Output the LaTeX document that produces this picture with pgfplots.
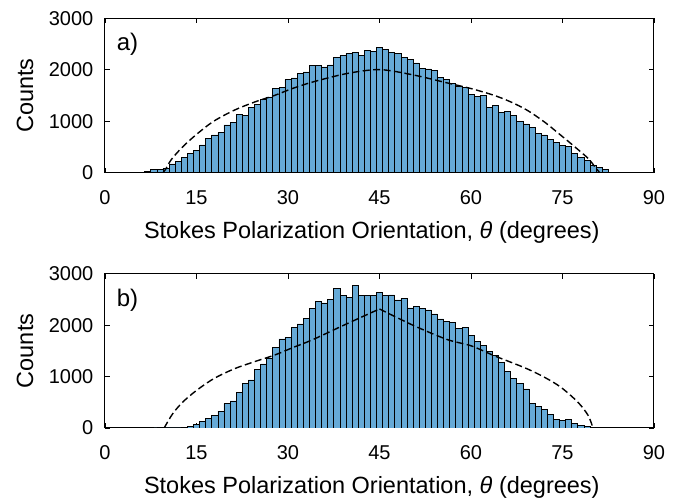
\documentclass[border=0pt]{standalone}
\usepackage{fontspec}
\setmainfont{Liberation Sans}
\usepackage{pgfplots}
\pgfplotsset{compat=1.18}
\definecolor{histblue}{RGB}{102,170,215}

\pgfplotsset{
    panel/.style={
        scale only axis, width=549pt, height=154.2pt,
        xmin=0, xmax=90, ymin=0, ymax=3000,
        xtick={0,15,...,90}, ytick={0,1000,2000,3000},
        scaled y ticks=false,
        /pgf/number format/1000 sep={},
        /pgf/number format/assume math mode=true,
        tick align=inside, major tick length=5pt,
        tick style={black, line width=0.8pt},
        axis line style={line width=1pt},
        ticklabel style={font=\fontsize{20}{24}\selectfont},
        xticklabel style={anchor=base, yshift=-31.6pt, inner sep=0pt},
        yticklabel style={anchor=east, xshift=-11.5pt, inner sep=0pt},
        label style={font=\fontsize{23.5}{28}\selectfont},
        xlabel={Stokes Polarization Orientation, \textit{θ} (degrees)},
        xlabel style={at={(axis description cs:0.486,-0.428)}, anchor=base, inner sep=0pt},
        ylabel={Counts},
        ylabel style={at={(axis description cs:-0.1311,0.5)}, anchor=base, inner sep=0pt},
    },
    hist/.style={ybar interval, fill=histblue, draw=black, line width=0.5pt},
    fit/.style={black, line width=1.4pt, dash pattern=on 7pt off 3.5pt},
}
\tikzset{tag/.style={anchor=base west, inner sep=0pt, font=\fontsize{24}{28}\selectfont}}

\begin{document}
\begin{tikzpicture}
\path[use as bounding box] (-105pt,-327.3pt) rectangle (584pt,172.7pt);

% a) panel, 1-degree bins centred on whole degrees
\begin{axis}[panel, anchor=south west, at={(0pt,0pt)}]
    \addplot[hist] coordinates {
        (6.5,30) (7.5,65) (8.5,65) (9.5,85) (10.5,170) (11.5,225) (12.5,300)
        (13.5,375) (14.5,430) (15.5,540) (16.5,670) (17.5,735) (18.5,780)
        (19.5,930) (20.5,985) (21.5,1130) (22.5,1110) (23.5,1275) (24.5,1325)
        (25.5,1425) (26.5,1475) (27.5,1635) (28.5,1655) (29.5,1810)
        (30.5,1844) (31.5,1928) (32.5,1960) (33.5,2083) (34.5,2083) (35.5,2057)
        (36.5,2096) (37.5,2245) (38.5,2284) (39.5,2323) (40.5,2336) (41.5,2284)
        (42.5,2387) (43.5,2355) (44.5,2433) (45.5,2400) (46.5,2336) (47.5,2316)
        (48.5,2245) (49.5,2200) (50.5,2135) (51.5,2025) (52.5,2019) (53.5,1986)
        (54.5,1857) (55.5,1818) (56.5,1734) (57.5,1682) (58.5,1656) (59.5,1520)
        (60.5,1488) (61.5,1508) (62.5,1275) (63.5,1313) (64.5,1178) (65.5,1197)
        (66.5,1113) (67.5,1003) (68.5,951) (69.5,880) (70.5,770) (71.5,738)
        (72.5,653) (73.5,589) (74.5,531) (75.5,505) (76.5,369) (77.5,298)
        (78.5,239) (79.5,149) (80.5,97) (81.5,65) (82.5,0)
    };
    \addplot[fit] coordinates {(0,0) (9.5,0)};
    \addplot[fit, smooth, tension=0.5] coordinates {
        (9.5,0) (9.9,60) (10.9,260) (12.75,505) (15,745) (17.8,1000) (21.2,1216)
        (24.6,1378) (27.9,1508) (30.7,1637) (34.1,1766) (39.6,1928) (45,2006)
        (50.6,1900) (56.1,1747) (60,1637) (63.7,1508) (66.5,1378) (69.2,1216)
        (72,990) (74.7,731) (77,505) (79.2,278) (80.3,116) (81.1,0)
    };
    \addplot[fit] coordinates {(81.1,0) (90,0)};
    \node[tag] at (axis cs:1.9,2370) {a)};
\end{axis}

% b) panel
\begin{axis}[panel, anchor=south west, at={(0pt,-255.3pt)}]
    \addplot[hist] coordinates {
        (6.5,13) (7.5,0) (8.5,0) (9.5,0) (10.5,0) (11.5,0) (12.5,13) (13.5,32)
        (14.5,65) (15.5,123) (16.5,181) (17.5,240) (18.5,330) (19.5,472)
        (20.5,530) (21.5,686) (22.5,867) (23.5,938) (24.5,1139) (25.5,1249)
        (26.5,1365) (27.5,1572) (28.5,1734) (29.5,1760) (30.5,1954) (31.5,2025)
        (32.5,2135) (33.5,2329) (34.5,2459) (35.5,2433) (36.5,2504) (37.5,2717)
        (38.5,2582) (39.5,2543) (40.5,2782) (41.5,2575) (42.5,2582) (43.5,2582)
        (44.5,2640) (45.5,2582) (46.5,2588) (47.5,2491) (48.5,2517) (49.5,2336)
        (50.5,2362) (51.5,2323) (52.5,2297) (53.5,2219) (54.5,2122) (55.5,2070)
        (56.5,2057) (57.5,1941) (58.5,1954) (59.5,1799) (60.5,1689) (61.5,1605)
        (62.5,1488) (63.5,1411) (64.5,1281) (65.5,1100) (66.5,970) (67.5,873)
        (68.5,763) (69.5,485) (70.5,427) (71.5,362) (72.5,265) (73.5,175)
        (74.5,155) (75.5,168) (76.5,84) (77.5,45) (78.5,26) (79.5,13) (80.5,6)
        (81.5,0)
    };
    \addplot[fit] coordinates {(0,0) (9.7,0)};
    \addplot[fit, smooth, tension=0.5] coordinates {
        (9.7,0) (11.1,278) (12.75,505) (15,731) (17.8,958) (21.2,1152)
        (24.6,1294) (27.9,1423) (30.7,1560) (34.1,1721) (39.6,2025) (45,2316)
    };
    \addplot[fit, smooth, tension=0.5] coordinates {
        (45,2316) (50.6,1993) (56.1,1721) (60,1600) (63.7,1411) (66.5,1281)
        (69.2,1152) (72,990) (74.7,796) (77.5,505) (79.2,246) (80,0)
    };
    \addplot[fit] coordinates {(80,0) (90,0)};
    \node[tag] at (axis cs:1.9,2370) {b)};
\end{axis}
\end{tikzpicture}
\end{document}
